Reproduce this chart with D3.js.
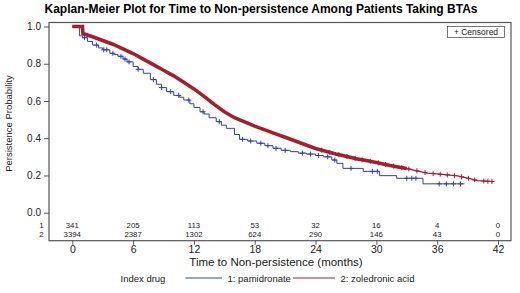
<!DOCTYPE html>
<html>
<head>
<meta charset="utf-8">
<script src="https://cdn.jsdelivr.net/npm/d3@7"></script>
<style>
  body { margin: 0; background: #fff; }
  svg { display: block; font-family: "Liberation Sans", Arial, sans-serif; }
</style>
</head>
<body>
<svg id="chart" width="520" height="293"></svg>
<script>
// risk table / ticks
const months   = [0, 6, 12, 18, 24, 30, 36, 42];
const atRisk1  = [341, 205, 113, 53, 32, 16, 4, 0];
const atRisk2  = [3394, 2387, 1302, 624, 290, 146, 43, 0];
const yTicks   = [0, 0.2, 0.4, 0.6, 0.8, 1.0];

// 1: pamidronate  (step breakpoints)
const pamTime = [0, 0.7, 1.0, 1.5, 2, 2.6, 3, 3.7, 4.1, 4.5, 5.0, 5.4, 6, 6.5, 7, 7.7, 8.3, 8.8, 9.3, 10, 10.6, 11, 11.6, 12, 12.6, 13.0, 13.5, 14.2, 14.7, 15.2, 16, 16.5,
                 17.3, 18.2, 19, 19.8, 20.6, 21.5, 22.3, 23.1, 24, 24.8, 25.6, 26.1, 26.7, 28.7, 30.3, 32, 34.6, 38.7];
const pamSurv = [1.0, 0.95, 0.94, 0.92, 0.90, 0.885, 0.875, 0.856, 0.85, 0.84, 0.825, 0.81, 0.785, 0.77, 0.749, 0.715, 0.69, 0.672, 0.65, 0.63, 0.62, 0.605, 0.585, 0.565, 0.542, 0.53, 0.51, 0.489, 0.47, 0.453, 0.42, 0.394,
                 0.385, 0.373, 0.36, 0.346, 0.335, 0.328, 0.32, 0.315, 0.307, 0.30, 0.283, 0.265, 0.238, 0.222, 0.199, 0.185, 0.155, 0.155];
const pamCensor = [1.2, 2.4, 3.1, 3.4, 4.0, 4.8, 5.2, 5.6, 6.5, 8.0, 8.8, 9.7, 10.5, 11.5, 12.9, 14.5, 16.8, 17.6, 18.6, 19.3, 20.1, 21.0,
                   22.7, 23.5, 24.3, 25.2, 25.9, 27.5, 29.6, 30.1, 33.0, 33.5, 33.9, 36.2, 36.9, 37.6, 38.3];

// 2: zoledronic acid (thousands of small steps: drawn as a smooth trace)
const zolTime = [0, 1.0, 1.05, 2, 3, 4, 5, 6, 7, 8, 9, 10, 11, 12, 13, 14, 15, 16, 17, 18, 19, 20, 21, 22, 23, 24, 25, 26, 27,
                 28, 29, 30, 31, 32, 33, 34, 35, 36, 37, 38, 39, 40, 41.5];
const zolSurv = [1.0, 1.0, 0.962, 0.945, 0.925, 0.905, 0.88, 0.855, 0.825, 0.795, 0.765, 0.735, 0.70, 0.665, 0.625, 0.582, 0.542, 0.51, 0.488, 0.465, 0.445, 0.425,
                 0.405, 0.385, 0.365, 0.345, 0.33, 0.315, 0.303, 0.29, 0.28, 0.27, 0.258, 0.247, 0.237, 0.225, 0.213, 0.208, 0.203, 0.198, 0.186, 0.172, 0.167];
const zolCensor = [24.6, 25.4, 26.3, 27.1, 27.9, 28.6, 29.4, 30.2, 30.9, 31.7, 32.5, 33.2, 34.0, 34.8, 35.6, 36.3, 37.0, 37.7,
                   38.4, 39.1, 39.7, 40.6, 41.0, 41.4];

const seriesNames = ['1: pamidronate', '2: zoledronic acid'];
const colPam = '#3340b4', colZol = '#a3202e', colFrame = '#555';
const font = '"Liberation Sans", Arial, sans-serif';

const svg = d3.select('#chart');

// scales
const x = d3.scaleLinear().domain([0, 42]).range([72.3, 498]);
const y = d3.scaleLinear().domain([0, 1]).range([212.7, 26.5]);

const frame = { left: 49, right: 511, top: 22.5, bottom: 240.7 };

// title
svg.append('text')
    .attr('x', 261).attr('y', 12.5)
    .attr('text-anchor', 'middle')
    .style('font-size', '12px').style('font-weight', 'bold')
    .text('Kaplan-Meier Plot for Time to Non-persistence Among Patients Taking BTAs');

// frame
svg.append('rect')
    .attr('x', frame.left).attr('y', frame.top)
    .attr('width', frame.right - frame.left).attr('height', frame.bottom - frame.top)
    .attr('fill', 'none').attr('stroke', colFrame).attr('stroke-width', 1.2);

// y axis
const yAxis = svg.append('g')
    .attr('transform', `translate(${frame.left},0)`)
    .call(d3.axisLeft(y).tickValues(yTicks).tickFormat(d3.format('.1f')).tickSize(5).tickPadding(3));
yAxis.select('.domain').remove();
yAxis.selectAll('line').attr('stroke', colFrame);
yAxis.selectAll('text').style('font-size', '10px').style('font-family', font).attr('fill', '#222');

svg.append('text')
    .attr('transform', 'translate(12,123.5) rotate(-90)')
    .attr('text-anchor', 'middle')
    .style('font-size', '9.5px').attr('fill', '#222')
    .text('Persistence Probability');

// x axis
const xAxis = svg.append('g')
    .attr('transform', `translate(0,${frame.bottom})`)
    .call(d3.axisBottom(x).tickValues(months).tickSize(4).tickPadding(1));
xAxis.select('.domain').remove();
xAxis.selectAll('line').attr('stroke', colFrame);
xAxis.selectAll('text').style('font-size', '10.5px').style('font-family', font).attr('fill', '#222');

svg.append('text')
    .attr('x', 276).attr('y', 266)
    .attr('text-anchor', 'middle')
    .style('font-size', '11.5px').attr('fill', '#222')
    .text('Time to Non-persistence (months)');

// risk table
const riskRows = [atRisk1, atRisk2];
riskRows.forEach((row, i) => {
  const ry = 228.3 + i * 8.4;
  svg.append('text')
      .attr('x', 41.5).attr('y', ry)
      .attr('text-anchor', 'middle')
      .style('font-size', '7.8px').attr('fill', '#222')
      .text(i + 1);
  svg.selectAll('.risk' + i)
      .data(row)
    .enter().append('text')
      .attr('class', 'risk' + i)
      .attr('x', (d, j) => x(months[j]))
      .attr('y', ry)
      .attr('text-anchor', 'middle')
      .style('font-size', '7.8px').attr('fill', '#222')
      .text(d => d);
});

// curves
const pam = pamTime.map((t, i) => ({ t: t, s: pamSurv[i] }));
const zol = zolTime.map((t, i) => ({ t: t, s: zolSurv[i] }));

const stepLine = d3.line().curve(d3.curveStepAfter).x(d => x(d.t)).y(d => y(d.s));
const smoothLine = d3.line().curve(d3.curveLinear).x(d => x(d.t)).y(d => y(d.s));

const stepAt = (data, t) => {
  const i = d3.bisector(d => d.t).right(data, t) - 1;
  return data[Math.max(0, i)].s;
};
const traceAt = (data, t) => {
  const i = Math.min(data.length - 1, Math.max(1, d3.bisector(d => d.t).right(data, t)));
  const a = data[i - 1], b = data[i];
  return a.s + (b.s - a.s) * (t - a.t) / (b.t - a.t);
};

// pamidronate
svg.append('path')
    .attr('d', stepLine(pam))
    .attr('fill', 'none').attr('stroke', colPam).attr('stroke-width', 1);

// zoledronic acid: dense censoring makes a heavy band until ~32 months
svg.append('path')
    .attr('d', smoothLine(zol.filter(d => d.t <= 33)))
    .attr('fill', 'none').attr('stroke', colZol).attr('stroke-width', 3.6);
svg.append('path')
    .attr('d', smoothLine(zol))
    .attr('fill', 'none').attr('stroke', colZol).attr('stroke-width', 1.2);

// censor marks
const drawCensor = (times, data, at, col) => {
  svg.append('g').selectAll('path')
      .data(times)
    .enter().append('path')
      .attr('transform', t => `translate(${x(t)},${y(at(data, t))})`)
      .attr('d', 'M-2.5,0H2.5M0,-2.5V2.5')
      .attr('stroke', col).attr('stroke-width', 1).attr('fill', 'none');
};
drawCensor(pamCensor, pam, stepAt, colPam);
drawCensor(zolCensor, zol, traceAt, colZol);

// censored legend box
svg.append('rect')
    .attr('x', 447.5).attr('y', 26.5).attr('width', 57).attr('height', 11)
    .attr('fill', '#fff').attr('stroke', colFrame).attr('stroke-width', 0.8);
svg.append('text')
    .attr('x', 476).attr('y', 35)
    .attr('text-anchor', 'middle')
    .style('font-size', '8.5px').attr('fill', '#222')
    .text('+ Censored');

// bottom legend
svg.append('text')
    .attr('x', 120.5).attr('y', 281.5)
    .style('font-size', '9.5px').attr('fill', '#222')
    .text('Index drug');

const legendX = [[185.5, 222, 227.5], [293, 335, 340.5]];
const legendCols = [colPam, colZol];
seriesNames.forEach((name, i) => {
  const lx = legendX[i];
  svg.append('line')
      .attr('x1', lx[0]).attr('x2', lx[1]).attr('y1', 278).attr('y2', 278)
      .attr('stroke', legendCols[i]).attr('stroke-width', 1);
  svg.append('text')
      .attr('x', lx[2]).attr('y', 281.5)
      .style('font-size', '9.5px').attr('fill', '#222')
      .text(name);
});
</script>
</body>
</html>
